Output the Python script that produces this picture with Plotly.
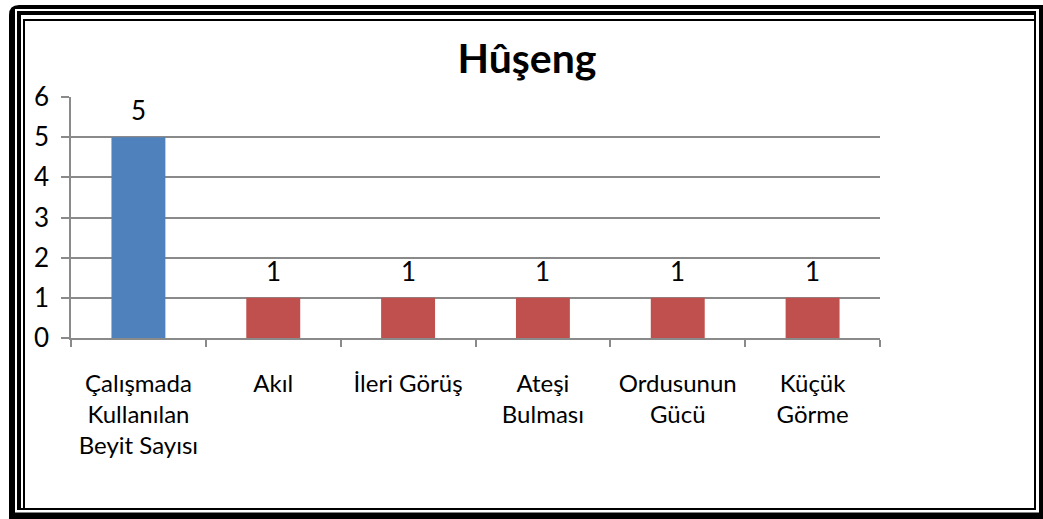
import plotly.graph_objects as go

# chart data
categories = ["Çalışmada<br>Kullanılan<br>Beyit Sayısı", "Akıl", "İleri Görüş",
              "Ateşi<br>Bulması", "Ordusunun<br>Gücü", "Küçük<br>Görme"]
values = [5, 1, 1, 1, 1, 1]
bar_colors = ["#4F81BD", "#C0504D", "#C0504D", "#C0504D", "#C0504D", "#C0504D"]
y_ticks = [0, 1, 2, 3, 4, 5, 6]
title_text = "Hûşeng"

W, H = 1043, 519
L, R, T, B = 71, 163, 97, 181
PW, PH = W - L - R, H - T - B
FONT = "Lato, Calibri, sans-serif"
GRID = "#8a8a8a"


def px(x):
    return (x - L) / PW


def py(y):
    return (H - B - y) / PH


def rect(x0, y0, x1, y1, fill=None, line=None, lw=0):
    return dict(type="rect", xref="paper", yref="paper", layer="below",
                x0=px(x0), x1=px(x1), y0=py(y1), y1=py(y0),
                fillcolor=fill or "rgba(0,0,0,0)",
                line=dict(color=line or "rgba(0,0,0,0)", width=lw))


fig = go.Figure()

fig.add_trace(go.Bar(
    x=categories, y=values,
    marker=dict(color=bar_colors, line=dict(width=0)),
    width=0.4,
    hoverinfo="skip",
))

# data labels above bars
for c, v in zip(categories, values):
    fig.add_annotation(x=c, y=v, text=str(v), showarrow=False,
                       yanchor="bottom", yshift=9,
                       font=dict(family=FONT, size=26, color="black"))

# outer frame (drawn as nested rectangles)
r = 10
outer = (f"M {px(9)},{py(5 + r)} Q {px(9)},{py(5)} {px(9 + r)},{py(5)} "
         f"L {px(1050)},{py(5)} L {px(1050)},{py(530)} L {px(9)},{py(530)} Z")
shapes = [
    dict(type="path", path=outer, xref="paper", yref="paper", layer="below",
         fillcolor="black", line=dict(width=0)),
    rect(15, 9, 1039, 512.5, fill="white"),
    rect(17, 11, 1036, 510, fill="black"),
    rect(21, 15, 1034, 508, fill="white"),
    rect(24, 20, 1035, 509, line="black", lw=2),
]

fig.update_layout(
    width=W, height=H,
    margin=dict(l=L, r=R, t=T, b=B, autoexpand=False),
    paper_bgcolor="white", plot_bgcolor="white",
    showlegend=False,
    shapes=shapes,
    title=dict(text=f"<b>{title_text}</b>", x=527 / W, xref="container", xanchor="center",
               y=1 - 59 / H, yref="container", yanchor="middle",
               font=dict(family=FONT, size=41, color="black")),
    font=dict(family=FONT, size=26, color="black"),
)

fig.update_xaxes(
    type="category", showgrid=False, automargin=False,
    showline=True, linecolor=GRID, linewidth=1.5,
    ticks="outside", tickson="boundaries", ticklen=7, tickcolor=GRID, tickwidth=1.5,
    tickfont=dict(family=FONT, size=24, color="black"),
    tickangle=0,
    ticklabelstandoff=23,
)
fig.update_yaxes(
    range=[0, 6], tickvals=y_ticks, automargin=False,
    showgrid=True, gridcolor=GRID, gridwidth=1.5,
    showline=True, linecolor=GRID, linewidth=1.5,
    ticks="outside", ticklen=8, tickcolor=GRID, tickwidth=1.5,
    tickfont=dict(family=FONT, size=26, color="black"),
    ticklabelstandoff=7,
    zeroline=False,
)

# page body has a default margin; drop it so the figure sits at the window corner
fig.write_html("out.html", config={"displayModeBar": False},
               post_script="document.body.style.margin='0';")
